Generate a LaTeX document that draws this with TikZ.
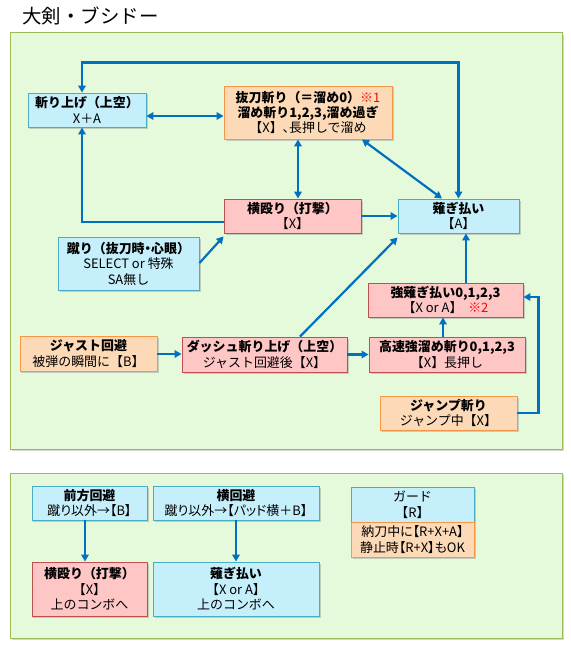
\documentclass[tikz,border=0pt]{standalone}
\usepackage{fontspec}
\setmainfont{Noto Sans CJK JP}
\usetikzlibrary{arrows.meta,shadows}
\definecolor{bluefill}{HTML}{C6EFFC}
\definecolor{blueline}{HTML}{4BACC6}
\definecolor{orfill}{HTML}{FCDAB8}
\definecolor{orline}{HTML}{F79646}
\definecolor{pkfill}{HTML}{FFC6C6}
\definecolor{pkline}{HTML}{C0504D}
\definecolor{frfill}{HTML}{E5FADA}
\definecolor{frline}{HTML}{9BBB59}
\definecolor{arrcol}{HTML}{0070C0}
\tikzset{
  boxbase/.style={draw, line width=0.9bp, inner sep=1bp, align=center,
    font=\fontsize{13}{15.5}\selectfont,
    drop shadow={shadow xshift=1.5bp, shadow yshift=-1.5bp, fill=black!40, opacity=0.45}},
  bluebox/.style={boxbase, fill=bluefill, draw=blueline},
  orbox/.style={boxbase, fill=orfill, draw=orline},
  pkbox/.style={boxbase, fill=pkfill, draw=pkline},
  frame/.style={draw=frline, fill=frfill, line width=1bp,
    drop shadow={shadow xshift=2bp, shadow yshift=-2bp, fill=black!40, opacity=0.4}},
  arr/.style={draw=arrcol, line width=2.2bp, -{Triangle[length=7bp,width=7.5bp]}},
  darr/.style={draw=arrcol, line width=2.2bp, {Triangle[length=7bp,width=7.5bp]}-{Triangle[length=7bp,width=7.5bp]}},
  wh/.style 2 args={minimum width=#1bp, minimum height=#2bp}
}
\newcommand{\rd}[1]{\textcolor{red}{#1}}
\newcommand{\pal}{\addfontfeature{RawFeature=+palt}}
\begin{document}
\begin{tikzpicture}[x=1bp,y=-1bp]
\useasboundingbox (0,0) rectangle (571,651);
\fill[white] (0,0) rectangle (571,651);
% title
\node[anchor=west, font=\fontsize{19.5}{21}\selectfont] (title) at (19,16) {大剣・ブシドー};
% frames
\path[frame] (10,33) rectangle (562,449);
\path[frame] (10,473) rectangle (562,638);
% top nodes
\node[bluebox, wh={118}{34}] (zan) at (87,110) {\bfseries 斬り上げ（上空）\\X＋A};
\node[orbox, wh={168}{53}] (batto) at (308,112.5) {\bfseries 抜刀斬り（＝溜め0）\mdseries\rd{※1}\\\bfseries 溜め斬り1,2,3,溜め過ぎ\\【X】{\pal 、}長押しで溜め};
\node[pkbox, wh={137}{34}] (yoko) at (292.5,216) {\bfseries 横殴り（打撃）\\【X】};
\node[bluebox, wh={121}{34}] (nagi) at (458.5,216) {\bfseries 薙ぎ払い\\【A】};
\node[bluebox, wh={141}{53}] (keri) at (128.5,263.5) {\bfseries 蹴り（抜刀時{\pal ・}心眼）\\SELECT or 特殊\\SA無し};
\node[orbox, wh={137}{35}] (just) at (88.5,353.5) {\bfseries ジャスト回避\\被弾の瞬間に【B】};
\node[pkbox, wh={165}{35}] (dash) at (264.5,354.5) {\bfseries ダッシュ斬り上げ（上空）\\ジャスト回避後【X】};
\node[pkbox, wh={156}{35}] (kosoku) at (447,354.5) {\bfseries 高速強溜め斬り0,1,2,3\\【X】長押し};
\node[pkbox, wh={155}{34}] (kyonagi) at (445.5,300) {\bfseries 強薙ぎ払い0,1,2,3\\【X or A】\ \ \rd{※2}};
\node[orbox, wh={137}{34}] (jump) at (448.5,413) {\bfseries ジャンプ斬り\\ジャンプ中【X】};
% top arrows
\draw[darr] (nagi.north) -- ++(0,-136) -| ([xshift=-5bp]zan.north);
\draw[darr] (zan.east |- 0,116) -- (batto.west |- 0,116);
\draw[darr] (batto.south -| 298,0) -- (yoko.north -| 298,0);
\draw[darr] (batto.south -| 362,0) -- (nagi.north -| 442,0);
\draw[arr] (yoko.east) -- (nagi.west);
\draw[arr] (yoko.west |- 0,222) -| ([xshift=-5bp]zan.south);
\draw[arr] (keri.east |- 0,263) -- ([yshift=-3bp]yoko.south west);
\draw[arr] (just.east |- 0,354) -- (dash.west |- 0,354);
\draw[arr] (dash.east) -- (kosoku.west);
\draw[arr] (dash.north -| 300,0) -- ([yshift=-4bp]nagi.south west);
\draw[arr] (kosoku.north -| 443,0) -- (kyonagi.south -| 443,0);
\draw[arr] (kyonagi.north -| 466,0) -- (nagi.south -| 466,0);
\draw[arr] (jump.east) -- ++(21,0) |- ([yshift=3bp]kyonagi.east);
% bottom nodes
\node[bluebox, wh={115}{34}] (zenpo) at (89.5,503) {\bfseries 前方回避\\{\pal 蹴り以外→【B】}};
\node[bluebox, wh={166}{34}] (yokokaihi) at (236,503) {\bfseries 横回避\\{\pal 蹴り以外→【パッド横＋B】}};
\node[pkbox, wh={115}{54}] (yoko2) at (89.5,589) {\bfseries 横殴り（打撃）\\【X】\\上のコンボへ};
\node[bluebox, wh={166}{54}] (nagi2) at (236,589) {\bfseries 薙ぎ払い\\【X or A】\\上のコンボへ};
\node[bluebox, wh={123}{35}] (guard) at (412.5,504.5) {ガード\\【R】};
\node[orbox, wh={123}{35}] (gnote) at (412.5,539.5) {{\pal 納刀中に【R+X+A】}\\{\pal 静止時【R+X】もOK}};
\draw[arr] (zenpo.south -| 85,0) -- (yoko2.north -| 85,0);
\draw[arr] (yokokaihi.south) -- (nagi2.north);
\end{tikzpicture}
\end{document}
